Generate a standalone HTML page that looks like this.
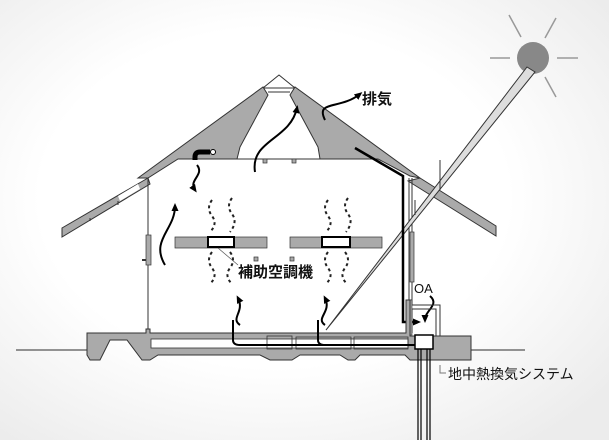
<!DOCTYPE html>
<html><head><meta charset="utf-8"><style>
html,body{margin:0;padding:0;width:609px;height:440px;overflow:hidden}
body{background:radial-gradient(ellipse 70% 70% at 45% 45%,#ffffff 55%,#ececec 100%)}
svg{position:absolute;left:0;top:0}
text{font-family:"Liberation Sans","Noto Sans CJK JP",sans-serif;fill:#111}
</style></head><body>
<svg width="609" height="440" viewBox="0 0 609 440">
<defs><marker id="ah" markerUnits="userSpaceOnUse" markerWidth="8" markerHeight="8" refX="5" refY="4" orient="auto"><path d="M0,0.5 L8,4 L0,7.5 Z" fill="#000"/></marker></defs>
<line x1="16" y1="350" x2="88" y2="350" stroke="#555" stroke-width="1.2"/>
<line x1="470" y1="350" x2="525" y2="350" stroke="#555" stroke-width="1.2"/>
<g stroke="#999" stroke-width="1.5">
<line x1="490" y1="58" x2="510" y2="58"/><line x1="557" y1="58" x2="578" y2="58"/>
<line x1="509" y1="15" x2="521" y2="37"/><line x1="556" y1="18" x2="545" y2="38"/><line x1="545" y1="77" x2="556" y2="97"/></g>
<circle cx="533" cy="58" r="16" fill="#888"/>
<path d="M279,75 L263,88 L295,88 Z" fill="#fff" stroke="#333"/>
<line x1="268" y1="92" x2="290" y2="92" stroke="#333"/>
<path d="M138,178 L263,87 L268,95 L240,147 L237,159 L178,159 L148,178 Z" fill="#aaa" stroke="#333"/>
<path d="M295,87 L290,95 L318,147 L320,159 L378,159 L410,176 L420,178 Z" fill="#aaa" stroke="#333"/>
<line x1="178" y1="159" x2="320" y2="159" stroke="#333"/>
<rect x="263" y="159" width="4" height="4" fill="#aaa" stroke="#333" stroke-width=".7"/>
<rect x="292" y="159" width="4" height="4" fill="#aaa" stroke="#333" stroke-width=".7"/>
<path d="M148,178 L62,228 L62,237 L150,184 Z" fill="#aaa" stroke="#333"/>
<path d="M138,184 L118,196 L120,201 L140,189 Z" fill="#fff"/>
<line x1="118" y1="201" x2="118" y2="205" stroke="#333"/><line x1="90" y1="218" x2="90" y2="221" stroke="#333"/>
<path d="M420,178 L496,226 L496,236 L408,181 Z" fill="#aaa" stroke="#333"/>
<line x1="148" y1="178" x2="148" y2="330" stroke="#333"/>
<rect x="146" y="235" width="5" height="30" fill="#aaa" stroke="#333" stroke-width=".7"/>
<line x1="142" y1="260" x2="146" y2="260" stroke="#333" stroke-width="2"/>
<line x1="409" y1="178" x2="409" y2="300" stroke="#333"/>
<line x1="412" y1="178" x2="412" y2="300" stroke="#333"/>
<rect x="410" y="232" width="4" height="50" fill="#aaa" stroke="#333" stroke-width=".7"/>
<!-- solar tube tapering -->
<path d="M527,67 L535,72 L326,330 Z" fill="#ddd" stroke="#333" stroke-width="1"/>
<line x1="440" y1="160" x2="440" y2="190" stroke="#333"/>
<line x1="415" y1="200" x2="415" y2="215" stroke="#333"/>
<rect x="175" y="237" width="92" height="11" fill="#aaa" stroke="#333" stroke-width=".7"/>
<rect x="290" y="237" width="92" height="11" fill="#aaa" stroke="#333" stroke-width=".7"/>
<rect x="208" y="237" width="26" height="10" fill="#fff" stroke="#000" stroke-width="2"/>
<rect x="322" y="237" width="28" height="10" fill="#fff" stroke="#000" stroke-width="2"/>
<rect x="254" y="257" width="4" height="4" fill="#aaa" stroke="#333" stroke-width=".7"/>
<rect x="290" y="257" width="4" height="4" fill="#aaa" stroke="#333" stroke-width=".7"/>
<path d="M218,248 L238,265" stroke="#555" stroke-width=".7" fill="none"/>
<text x="238" y="277" font-size="15" font-weight="bold">補助空調機</text>
<g stroke="#222" stroke-width="2" stroke-dasharray="3,3" fill="none">
<path d="M212,200 q-6,8 0,16 q6,8 -2,16"/><path d="M232,198 q-6,8 0,16 q6,8 -2,18"/>
<path d="M328,200 q-6,8 0,16 q6,8 -2,16"/><path d="M348,198 q-6,8 0,16 q6,8 -2,18"/>
<path d="M212,252 q-6,8 0,16 q6,8 -2,16"/><path d="M230,252 q6,8 0,16 q-6,8 2,16"/>
<path d="M328,252 q-6,8 0,16 q6,8 -2,16"/><path d="M345,252 q6,8 0,16 q-6,8 2,16"/>
</g>
<g stroke="#000" stroke-width="2" fill="none" marker-end="url(#ah)">
<path d="M255,172 C250,140 290,140 297,108"/>
<path d="M165,265 C150,240 175,230 175,206"/>
<path d="M197,165 C205,175 188,180 195,190"/>
<path d="M325,120 C315,100 340,110 360,94"/>
<path d="M240,325 C230,318 245,312 238,298"/>
<path d="M325,325 C315,318 332,312 325,298"/>
<path d="M430,296 C440,305 425,310 425,320"/>
</g>
<path d="M210,152 L200,152 Q195,152 195,157 L195,160" stroke="#000" stroke-width="5" fill="none"/>
<circle cx="213" cy="152" r="2.5" fill="#fff" stroke="#000"/>
<text x="362" y="104" font-size="15" font-weight="bold">排気</text>
<path d="M355,148 L403,176 L403,322 L418,322" stroke="#000" stroke-width="2.5" fill="none" marker-end="url(#ah)"/>
<text x="414" y="293" font-size="13">OA</text>
<path d="M408,300 L412,300 L412,305 L440,305 L440,350 L436,350 L436,309 L412,309 L412,333" fill="none" stroke="#333" stroke-width="1"/>
<rect x="408" y="300" width="4" height="35" fill="#aaa" stroke="#333" stroke-width=".6"/>
<path d="M87,333 L146,333 L146,329 L150,329 L150,333 L406,333 L406,300 L410,300 L410,336 L471,336 L471,360 L410,360 L405,355 L360,355 L355,360 L348,360 L340,355 L300,355 L292,360 L270,360 L260,355 L158,355 L150,360 L142,360 L127,340 L110,340 L100,360 L90,360 L87,355 Z" fill="#aaa" stroke="#333"/>
<rect x="151" y="339" width="257" height="9" fill="#fff" stroke="#333" stroke-width=".8"/>
<g fill="none" stroke="#333" stroke-width=".8">
<rect x="267" y="336" width="25" height="13"/><rect x="296" y="337" width="55" height="12"/><rect x="354" y="337" width="54" height="12"/></g>
<path d="M233,320 L233,340 Q233,345 240,345 L415,345" stroke="#000" stroke-width="2" fill="none"/>
<path d="M318,320 L318,340 Q318,345 325,345" stroke="#000" stroke-width="2" fill="none"/>
<rect x="415" y="335" width="18" height="14" fill="#fff" stroke="#000" stroke-width="1.5"/>
<g stroke="#000" stroke-width="1.2"><line x1="418" y1="349" x2="418" y2="440"/><line x1="421" y1="349" x2="421" y2="440"/><line x1="427" y1="349" x2="427" y2="440"/><line x1="430" y1="349" x2="430" y2="440"/></g>
<path d="M440,365 L440,373 L446,373" stroke="#777" fill="none"/>
<text x="448" y="379" font-size="14">地中熱換気システム</text>
</svg>
</body></html>
